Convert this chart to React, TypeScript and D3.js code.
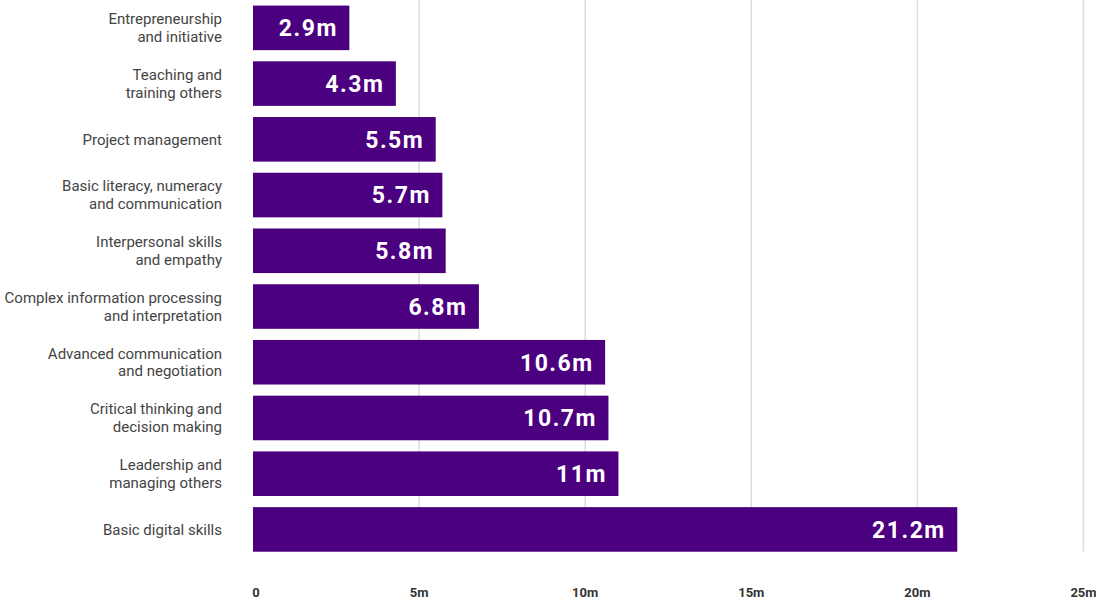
import React from "react";
import * as d3 from "d3";

const categories: string[][] = [
  ["Entrepreneurship", "and initiative"],
  ["Teaching and", "training others"],
  ["Project management"],
  ["Basic literacy, numeracy", "and communication"],
  ["Interpersonal skills", "and empathy"],
  ["Complex information processing", "and interpretation"],
  ["Advanced communication", "and negotiation"],
  ["Critical thinking and", "decision making"],
  ["Leadership and", "managing others"],
  ["Basic digital skills"],
];
const values: number[] = [2.9, 4.3, 5.5, 5.7, 5.8, 6.8, 10.6, 10.7, 11, 21.2];
const valueLabels: string[] = ["2.9m", "4.3m", "5.5m", "5.7m", "5.8m", "6.8m", "10.6m", "10.7m", "11m", "21.2m"];
const tickValues: number[] = [0, 5, 10, 15, 20, 25];
const tickLabels: string[] = ["0", "5m", "10m", "15m", "20m", "25m"];

const W = 1096;
const H = 599;
const FONT = "Roboto, 'Noto Sans', sans-serif";
const BAR = "#4b0080";

export default function App() {
  const x = d3.scaleLinear().domain([0, 25]).range([253, 1083.5]);
  const ids = categories.map((_, i) => String(i));
  const y = d3.scaleBand<string>().domain(ids).range([0, 557.3]).paddingInner(0.2).paddingOuter(0.1);
  const bw = y.bandwidth();
  const gridBottom = (y(ids[ids.length - 1]) ?? 0) + bw;

  return (
    <svg width={W} height={H} style={{ position: "absolute", left: 0, top: 0, background: "#fff" }} fontFamily={FONT}>
      <g>
        {tickValues.map((t, i) => (
          i === 0 ? null : (
            <line key={"g" + i} x1={x(t)} x2={x(t)} y1={0} y2={gridBottom} stroke="#dcdcdc" strokeWidth={1.5} />
          )
        ))}
      </g>
      <g>
        {values.map((v, i) => {
          const yy = y(ids[i]) ?? 0;
          return (
            <g key={"b" + i}>
              <rect x={x(0)} y={yy} width={x(v) - x(0)} height={bw} fill={BAR} />
              <text x={x(v) - 11.5} y={yy + bw / 2} dy="0.36em" textAnchor="end" fill="#fff" fontSize={23} fontWeight={700} letterSpacing={1.5}>
                {valueLabels[i]}
              </text>
              <text textAnchor="end" fill="#444" fontSize={15}>
                {categories[i].map((line, j) => {
                  const n = categories[i].length;
                  const cy = yy + bw / 2 + (j - (n - 1) / 2) * 17.7;
                  return (
                    <tspan key={j} x={222} y={cy} dy="0.35em">{line}</tspan>
                  );
                })}
              </text>
            </g>
          );
        })}
      </g>
      <g>
        {tickValues.map((t, i) => (
          <text key={"t" + i} x={x(t) + (i === 0 ? 3 : 0)} y={592} dy="0.35em" textAnchor="middle" fill="#333" fontSize={13} fontWeight={700}>
            {tickLabels[i]}
          </text>
        ))}
      </g>
    </svg>
  );
}
